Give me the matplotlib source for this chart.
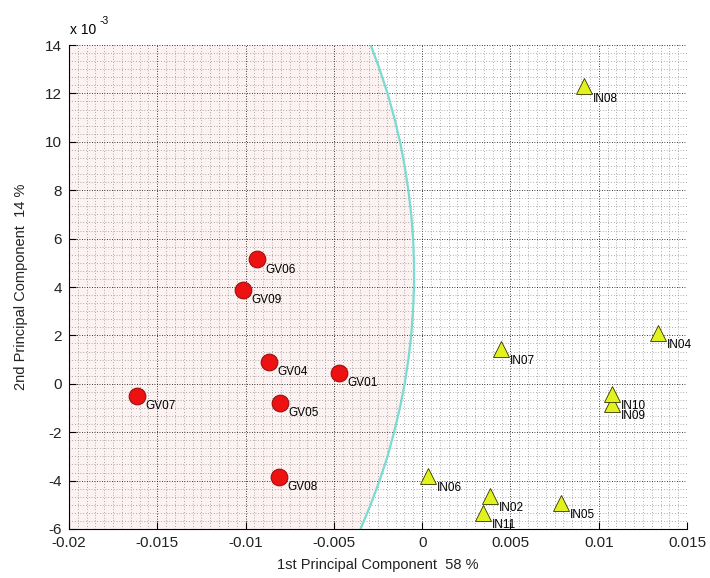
import numpy as np
import matplotlib.pyplot as plt
from matplotlib.ticker import MultipleLocator, FuncFormatter

plt.rcParams['font.family'] = ['Liberation Sans', 'DejaVu Sans']

# PCA scores (x: PC1, y: PC2 in units of 1e-3)
gv_names = ["GV01", "GV04", "GV05", "GV06", "GV07", "GV08", "GV09"]
gv_x = [-0.0047, -0.00866, -0.00804, -0.00934, -0.01614, -0.0081, -0.01014]
gv_y = [0.45, 0.91, -0.79, 5.15, -0.5, -3.84, 3.88]

in_names = ["IN02", "IN04", "IN05", "IN06", "IN07", "IN08", "IN09", "IN10", "IN11"]
in_x = [0.00385, 0.01336, 0.00787, 0.00034, 0.00447, 0.00917, 0.01076, 0.01076, 0.00345]
in_y = [-4.63, 2.1, -4.92, -3.8, 1.45, 12.3, -0.83, -0.41, -5.33]

# class boundary
bnd_y = [-6, -5, -4, -3, -2, -1, 0, 1, 2, 3, 4, 5, 6, 7, 8, 9, 10, 11, 12, 13, 14]
bnd_x = [-0.00349, -0.00292, -0.00241, -0.00196, -0.00159, -0.00126, -0.00099,
         -0.00078, -0.00062, -0.00052, -0.00046, -0.00046, -0.00051, -0.00062,
         -0.00078, -0.00099, -0.00125, -0.00158, -0.00196, -0.00241, -0.00291]

xlim = (-0.02, 0.015)
ylim = (-6, 14)

fig = plt.figure(figsize=(7.1, 5.78), dpi=100)
ax = fig.add_axes([0.0972, 0.0848, 0.8704, 0.8373])

ax.fill_betweenx(bnd_y, xlim[0], bnd_x, color="#fdf2f2", lw=0, zorder=0.2)
ax.plot(bnd_x, bnd_y, color="#7adbd0", lw=1.6, zorder=2)

ax.plot(gv_x, gv_y, "o", ms=12, mfc="#ee1111", mec="#991111", mew=0.8, zorder=3)
ax.plot(in_x, in_y, "^", ms=12, mfc="#e2f21e", mec="#333300", mew=0.6, zorder=3)

for n, x, y in zip(gv_names, gv_x, gv_y):
    ax.annotate(n, (x, y), xytext=(6, -7.5), textcoords="offset points",
                ha="left", va="center", fontsize=8.5, zorder=4)
for n, x, y in zip(in_names, in_x, in_y):
    ax.annotate(n, (x, y), xytext=(6.5, -9), textcoords="offset points",
                ha="left", va="center", fontsize=8.5, zorder=4)

ax.set_xlim(*xlim)
ax.set_ylim(*ylim)
ax.xaxis.set_major_locator(MultipleLocator(0.005))
ax.xaxis.set_minor_locator(MultipleLocator(0.0005))
ax.yaxis.set_major_locator(MultipleLocator(2))
ax.yaxis.set_minor_locator(MultipleLocator(1 / 3))
ax.xaxis.set_major_formatter(FuncFormatter(lambda v, p: "%g" % round(v, 6)))
ax.yaxis.set_major_formatter(FuncFormatter(lambda v, p: "%g" % round(v, 6)))

ax.set_axisbelow(True)
ax.grid(which="major", color="k", linestyle=(0, (1, 2)), lw=0.6)
ax.grid(which="minor", color="0.4", linestyle=(0, (1, 3)), lw=0.5)

for s in ("top", "right"):
    ax.spines[s].set_visible(False)
ax.tick_params(which="major", direction="in", length=5, labelsize=11, pad=5,
               labelcolor="#222222")
ax.tick_params(which="minor", length=0)

ax.set_xlabel("1st Principal Component  58 %", fontsize=10.5, labelpad=6,
              color="#222222")
ax.set_ylabel("2nd Principal Component  14 %", fontsize=10.5, labelpad=12,
              color="#222222")

ax.text(0.001, 1.017, "x 10", transform=ax.transAxes, ha="left", va="bottom", fontsize=10)
ax.text(0.05, 1.04, "-3", transform=ax.transAxes, ha="left", va="bottom", fontsize=7.5)

fig.savefig("out.png", dpi=100)
